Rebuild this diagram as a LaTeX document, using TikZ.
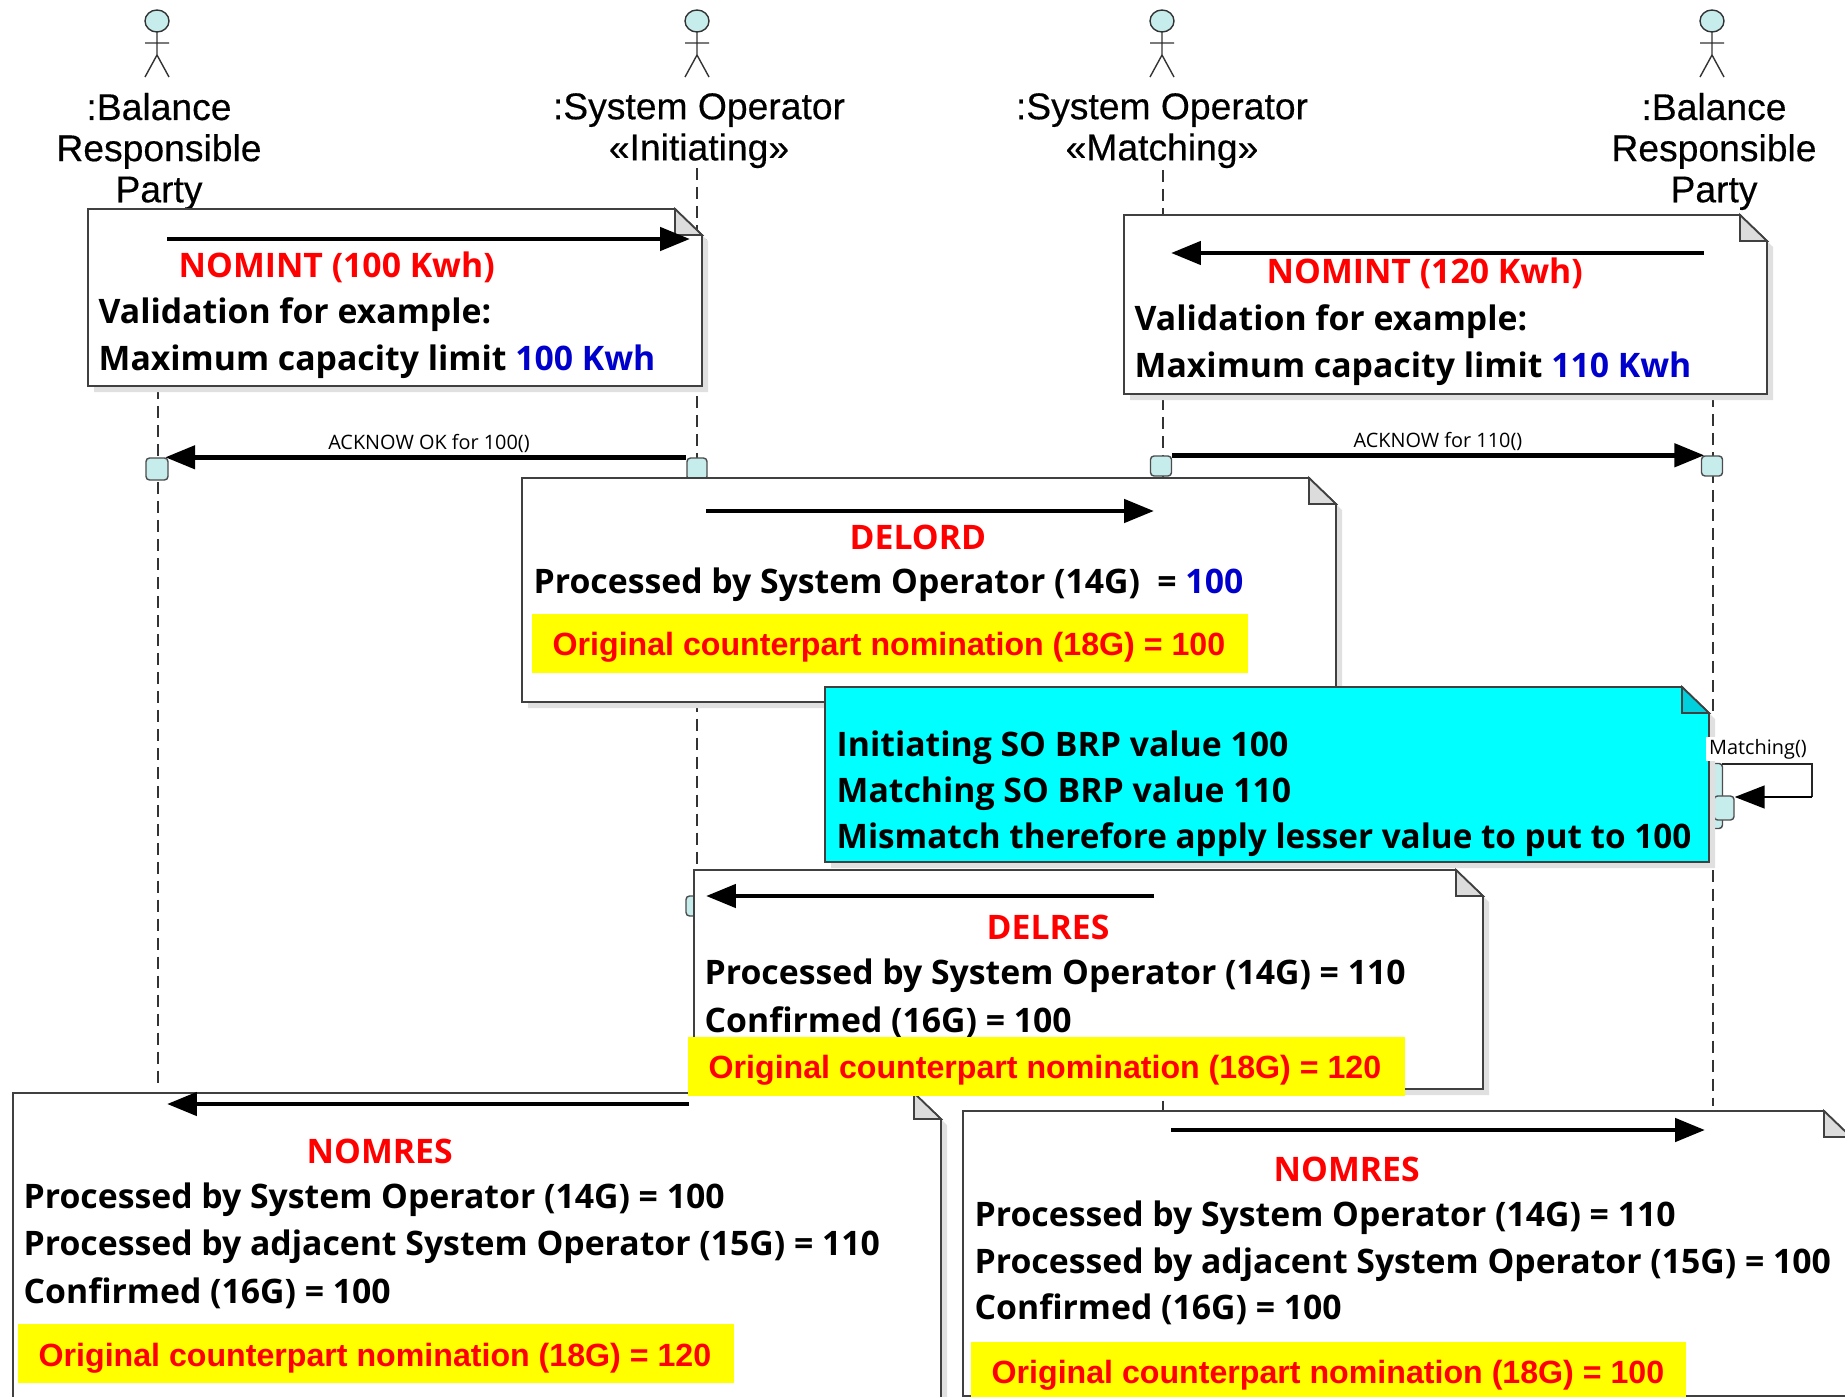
\documentclass[tikz,border=0pt]{standalone}
\usepackage{fontspec}
\setmainfont[FakeBold=0.35]{Liberation Sans}
\newfontfamily\notefont{Open Sans}
\newfontfamily\counterfont{Liberation Sans}
\usetikzlibrary{arrows.meta}
\definecolor{lifefill}{HTML}{C6ECEC}
\definecolor{foldgray}{HTML}{DCDCDC}
\definecolor{foldcyan}{HTML}{00CFDD}
\definecolor{limitblue}{HTML}{0000CC}
\definecolor{notecyan}{RGB}{0,255,255}
\definecolor{markyellow}{RGB}{255,255,0}
\definecolor{titlered}{RGB}{255,0,0}
\tikzset{
  actorlabel/.style={font=\fontsize{10.6}{11.7}\selectfont, align=center, inner sep=0pt, yshift=-0.025cm},
  lifeline/.style={black!80, line width=0.3pt, dash pattern=on 3.4pt off 2pt},
  activation/.style={draw=black!70, fill=lifefill, line width=0.4pt, rounded corners=1pt},
  message/.style={line width=1.4pt, -{Triangle[length=8.5pt,width=6.5pt]}},
  notetext/.style={font=\notefont\bfseries\fontsize{9.6}{11}\selectfont, anchor=west, inner sep=0pt, yshift=-0.03cm},
  notetitle/.style={notetext, text=titlered, yshift=0.015cm},
  counterpart/.style={font=\counterfont\bfseries\fontsize{9.14}{11}\selectfont, text=titlered, anchor=west, inner sep=0pt, yshift=-0.03cm},
  callname/.style={font=\notefont\fontsize{5.65}{6}\selectfont, inner sep=0pt, yshift=-0.01cm},
}
% note with a folded corner: name, x1, y1, x2, y2, paper, fold
\newcommand{\notepaper}[7]{
  \fill[black!12] (#2+6,#3+6) -- (#4-21,#3+6) -- (#4+6,#3+32) -- (#4+6,#5+6) -- (#2+6,#5+6) -- cycle;
  \draw[fill=#6, draw=black!75, line width=0.5pt] (#2,#3) -- (#4-27,#3) -- (#4,#3+26) -- (#4,#5) -- (#2,#5) -- cycle;
  \draw[fill=#7, draw=black!75, line width=0.5pt] (#4-27,#3) -- (#4,#3+26) -- (#4-27,#3+26) -- cycle;
  \coordinate (#1) at (#2,#3);
}
\begin{document}
\begin{tikzpicture}[x=0.01cm,y=-0.01cm]
  \useasboundingbox (0,0) rectangle (1845,1397);
  \clip (0,0) rectangle (1845,1397);
  % actors
  \foreach \px/\name in {157/brpa,697/soini,1162/somat,1712/brpb} {
    \draw[black!80, line width=0.4pt, fill=lifefill] (\px,21) ellipse (12 and 11);
    \draw[black!80, line width=0.4pt] (\px,32) -- (\px,55) (\px-12,43) -- (\px+12,43)
      (\px-12,77) -- (\px,55) -- (\px+12,77);
  }
  \node[actorlabel] (brpaname) at (159,149) {:Balance\\Responsible\\Party};
  \node[actorlabel,anchor=north] (soininame) at (699,90) {:System Operator\\«Initiating»};
  \node[actorlabel,anchor=north] (somatname) at (1162,90) {:System Operator\\«Matching»};
  \node[actorlabel] (brpbname) at (1714,149) {:Balance\\Responsible\\Party};
  % lifelines
  \draw[lifeline] (158,387) -- (158,1088);
  \draw[lifeline] (697,168) -- (697,1093);
  \draw[lifeline] (1163,170) -- (1163,1110);
  \draw[lifeline] (1713,395) -- (1713,1106);
  % activations
  \node[activation, minimum width=0.22cm, minimum height=0.22cm, inner sep=0pt] (acka) at (157,469) {};
  \node[activation, minimum width=0.2cm, minimum height=0.22cm, inner sep=0pt] (ackb) at (697,469) {};
  \node[activation, minimum width=0.21cm, minimum height=0.2cm, inner sep=0pt] (ackc) at (1161,466) {};
  \node[activation, minimum width=0.21cm, minimum height=0.2cm, inner sep=0pt] (ackd) at (1712,466) {};
  \node[activation, minimum width=0.1cm, minimum height=0.2cm, inner sep=0pt] (nomintend) at (702,249) {};
  \node[activation, minimum width=0.16cm, minimum height=0.2cm, inner sep=0pt] (delresend) at (694,906) {};
  \node[activation, minimum width=0.13cm, minimum height=0.65cm, inner sep=0pt] (matchbar) at (1716,796) {};
  \node[activation, minimum width=0.2cm, minimum height=0.24cm, inner sep=0pt] (matchend) at (1724,808) {};
  % acknowledgements
  \node[callname] (ackaname) at (429,442) {ACKNOW OK for 100()};
  \draw[message, shorten >=-1pt] (ackb.north west) -- (acka.north east);
  \node[callname] (ackcname) at (1438,440) {ACKNOW for 110()};
  \draw[message, shorten >=-1pt] (ackc.north east) -- (ackd.north west);
  % self call
  \coordinate (matchout) at (1722,764);
  \coordinate (matchcorner) at (1812,764);
  \coordinate (matchback) at (1812,797);
  \draw[black!85, line width=0.5pt] (matchout) -- (matchcorner) -- (matchback);
  \draw[line width=0.5pt, -{Triangle[length=8.5pt,width=6.5pt]}] (matchback) -- (matchend.north east |- matchback);
  % nominations
  \notepaper{nomintinit}{88}{209}{702}{386}{white}{foldgray}
  \coordinate (nomintfrom) at (167,239);
  \coordinate (nomintto) at (690,239);
  \draw[message] (nomintfrom) -- (nomintto);
  \node[notetitle] (nominta) at (178,266) {NOMINT (100 Kwh)};
  \node[notetext] (nomintb) at (98,312) {Validation for example:};
  \node[notetext] (nomintc) at (98,359) {Maximum capacity limit \textcolor{limitblue}{100 Kwh}};

  \notepaper{nomintmat}{1124}{215}{1767}{394}{white}{foldgray}
  \coordinate (nomatfrom) at (1704,253);
  \coordinate (nomatto) at (1171,253);
  \draw[message] (nomatfrom) -- (nomatto);
  \node[notetitle] (nomata) at (1266,272) {NOMINT (120 Kwh)};
  \node[notetext] (nomatb) at (1134,319) {Validation for example:};
  \node[notetext] (nomatc) at (1134,366) {Maximum capacity limit \textcolor{limitblue}{110 Kwh}};

  % delord
  \notepaper{delord}{522}{478}{1336}{702}{white}{foldgray}
  \coordinate (delordfrom) at (706,511);
  \coordinate (delordto) at (1154,511);
  \draw[message] (delordfrom) -- (delordto);
  \node[notetitle] (delorda) at (849,536) {DELORD};
  \node[notetext] (delordb) at (533,582) {Processed by System Operator (14G) \ = \textcolor{limitblue}{100}};
  \fill[markyellow] (532,614) rectangle (1248,673);
  \node[counterpart] (delordc) at (552,644) {Original counterpart nomination (18G) = 100};

  % matching result
  \notepaper{mismatch}{825}{687}{1709}{862}{notecyan}{foldcyan}
  \node[notetext] (mismatcha) at (836,745) {Initiating SO BRP value 100};
  \node[notetext] (mismatchb) at (836,791) {Matching SO BRP value 110};
  \node[notetext, xscale=0.985] (mismatchc) at (836,837) {Mismatch therefore apply lesser value to put to 100};
  \node[callname, fill=white, inner xsep=1pt, inner ysep=0.5pt, anchor=west] (matchname) at (1705,748) {Matching()};

  % nomres left and right
  \notepaper{nomresa}{13}{1093}{941}{1420}{white}{foldgray}
  \coordinate (nomresafrom) at (689,1104);
  \coordinate (nomresato) at (167,1104);
  \draw[message] (nomresafrom) -- (nomresato);
  \node[notetitle] (nomresaa) at (306,1150) {NOMRES};
  \node[notetext] (nomresab) at (23,1197) {Processed by System Operator (14G) = 100};
  \node[notetext] (nomresac) at (23,1244) {Processed by adjacent System Operator (15G) = 110};
  \node[notetext] (nomresad) at (23,1290) {Confirmed (16G) = 100};
  \fill[markyellow] (18,1324) rectangle (734,1383);
  \node[counterpart] (nomresae) at (38,1355) {Original counterpart nomination (18G) = 120};

  \notepaper{nomresb}{963}{1111}{1851}{1396}{white}{foldgray}
  \coordinate (nomresbfrom) at (1171,1130);
  \coordinate (nomresbto) at (1705,1130);
  \draw[message] (nomresbfrom) -- (nomresbto);
  \node[notetitle] (nomresba) at (1273,1168) {NOMRES};
  \node[notetext] (nomresbb) at (974,1215) {Processed by System Operator (14G) = 110};
  \node[notetext] (nomresbc) at (974,1262) {Processed by adjacent System Operator (15G) = 100};
  \node[notetext] (nomresbd) at (974,1306) {Confirmed (16G) = 100};
  \fill[markyellow] (971,1342) rectangle (1686,1397);
  \node[counterpart] (nomresbe) at (991,1372) {Original counterpart nomination (18G) = 100};

  % delres
  \notepaper{delres}{694}{870}{1483}{1089}{white}{foldgray}
  \coordinate (delresfrom) at (1154,896);
  \coordinate (delresto) at (706,896);
  \draw[message] (delresfrom) -- (delresto);
  \node[notetitle] (delresa) at (986,926) {DELRES};
  \node[notetext] (delresb) at (704,973) {Processed by System Operator (14G) = 110};
  \node[notetext] (delresc) at (704,1019) {Confirmed (16G) = 100};
  \fill[markyellow] (688,1037) rectangle (1405,1096);
  \node[counterpart] (delresd) at (708,1067) {Original counterpart nomination (18G) = 120};
\end{tikzpicture}
\end{document}
